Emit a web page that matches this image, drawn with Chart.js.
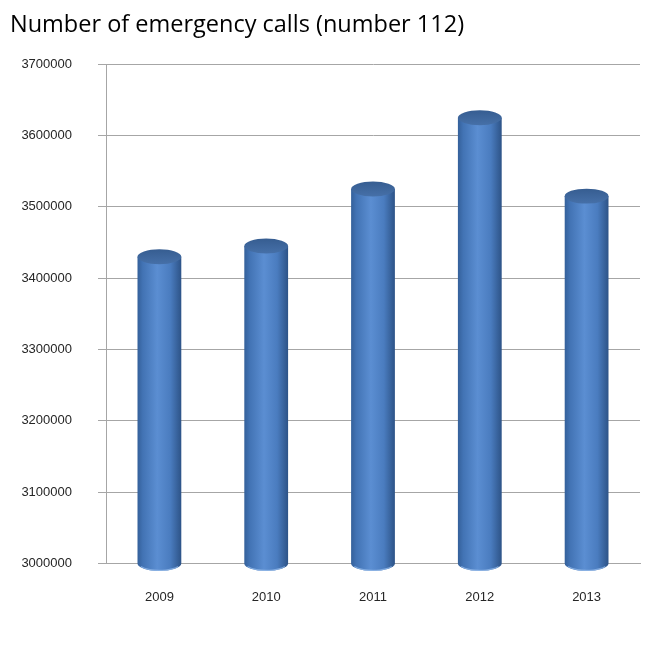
<!DOCTYPE html>
<html>
<head>
<meta charset="utf-8">
<script src="https://cdn.jsdelivr.net/npm/chart.js@4"></script>
<style>
  html, body { margin: 0; padding: 0; background: #fff; }
  #wrap { width: 665px; height: 651px; }
</style>
</head>
<body>
<div id="wrap"><canvas id="chart" width="665" height="651"></canvas></div>
<script>
// values
const years = ['2009', '2010', '2011', '2012', '2013'];
const calls = [3430000, 3445000, 3525000, 3625000, 3515000];
const yMin = 3000000;
const yMax = 3700000;
const yStep = 100000;

// draws the bars as cylinders: shaded body, dark top cap, rounded bottom
const cylinderPlugin = {
    id: 'cylinders',
    afterDatasetsDraw(chart) {
        const ctx = chart.ctx;
        const meta = chart.getDatasetMeta(0);
        meta.data.forEach(bar => {
            const p = bar.getProps(['x', 'y', 'base', 'width'], true);
            const left = p.x - p.width / 2;
            const rx = p.width / 2;
            const ry = p.width * 0.17;
            const top = Math.min(p.y, p.base);
            const bottom = Math.max(p.y, p.base);

            const grad = ctx.createLinearGradient(left, 0, left + p.width, 0);
            grad.addColorStop(0, '#34609a');
            grad.addColorStop(0.12, '#4273b4');
            grad.addColorStop(0.45, '#5b8ed2');
            grad.addColorStop(0.75, '#4a7cbf');
            grad.addColorStop(1, '#2d5387');

            ctx.save();
            ctx.beginPath();
            ctx.moveTo(left, top);
            ctx.lineTo(left, bottom);
            ctx.ellipse(p.x, bottom, rx, ry, 0, Math.PI, 0, true);
            ctx.lineTo(left + p.width, top);
            ctx.closePath();
            ctx.fillStyle = grad;
            ctx.fill();

            ctx.beginPath();
            ctx.ellipse(p.x, bottom, rx - 1, ry - 0.5, 0, 0.15 * Math.PI, 0.85 * Math.PI);
            ctx.strokeStyle = 'rgba(140,180,230,0.8)';
            ctx.lineWidth = 1.2;
            ctx.stroke();

            ctx.beginPath();
            ctx.ellipse(p.x, top, rx, ry, 0, 0, Math.PI * 2);
            const capGrad = ctx.createLinearGradient(0, top - ry, 0, top + ry);
            capGrad.addColorStop(0, '#365d91');
            capGrad.addColorStop(1, '#4670a8');
            ctx.fillStyle = capGrad;
            ctx.fill();
            ctx.restore();
        });
    }
};

new Chart(document.getElementById('chart'), {
    type: 'bar',
    data: {
        labels: years,
        datasets: [{
            label: 'Number of emergency calls',
            data: calls.map(v => [yMin, v]),
            backgroundColor: 'rgba(0,0,0,0)',
            borderWidth: 0,
            categoryPercentage: 1.0,
            barPercentage: 0.41
        }]
    },
    options: {
        responsive: false,
        animation: false,
        layout: { padding: { left: 10, right: 25, top: 0, bottom: 28 } },
        plugins: {
            legend: { display: false },
            tooltip: { enabled: false },
            title: {
                display: true,
                text: 'Number of emergency calls (number 112)',
                align: 'start',
                color: '#000',
                font: { family: 'Open Sans', size: 23.5, weight: 'normal' },
                padding: { top: 11, bottom: 25 }
            }
        },
        scales: {
            x: {
                grid: { display: false },
                border: { color: '#a6a6a6' },
                ticks: {
                    color: '#262626',
                    font: { family: 'Liberation Sans', size: 13 },
                    padding: 18
                }
            },
            y: {
                min: yMin,
                max: yMax,
                afterFit(scale) { scale.width = 96; },
                ticks: {
                    stepSize: yStep,
                    color: '#262626',
                    font: { family: 'Liberation Sans', size: 13 },
                    padding: 26,
                    callback: v => String(v)
                },
                grid: { color: '#a6a6a6', tickLength: 8 },
                border: { color: '#a6a6a6' }
            }
        }
    },
    plugins: [cylinderPlugin]
});
</script>
</body>
</html>
